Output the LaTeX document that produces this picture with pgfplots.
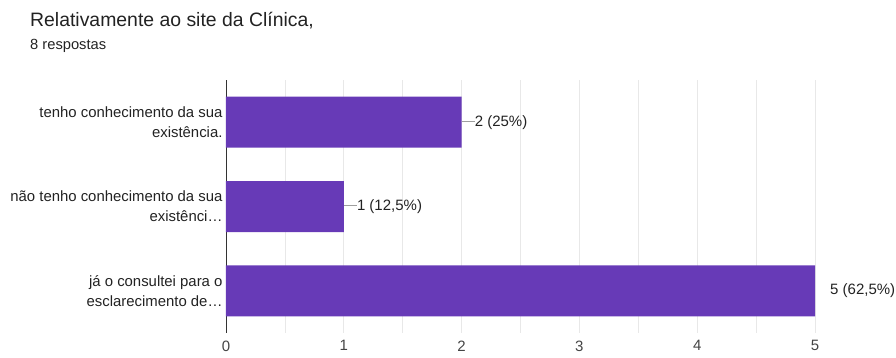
\documentclass[border=0pt]{standalone}
\usepackage{pgfplots}
\pgfplotsset{compat=1.18}
\usepackage{fontspec}
\setmainfont{Liberation Sans}
\definecolor{barpurple}{HTML}{673AB7}
\definecolor{gridgray}{HTML}{E8E8E8}
\definecolor{txt}{HTML}{222222}
\definecolor{ticktxt}{HTML}{444444}
\definecolor{leadgray}{HTML}{9E9E9E}
\definecolor{axisdark}{HTML}{333333}
\newcommand{\lead}{\textcolor{leadgray}{\rule[4.5pt]{13pt}{0.8pt}}}
\begin{document}
\begin{tikzpicture}[x=1pt,y=1pt]
\path[use as bounding box] (0,0) rectangle (896,358);
\node[anchor=base west, font=\fontsize{19.4}{22}\selectfont, text=txt, inner sep=0] at (30,331) {Relativamente ao site da Clínica,};
\node[anchor=base west, font=\fontsize{14.7}{17}\selectfont, text=txt, inner sep=0] at (30,308) {8 respostas};
\begin{axis}[
  at={(226pt,25pt)}, anchor=south west,
  scale only axis, width=589pt, height=253pt,
  xbar, bar width=51pt,
  xmin=0, xmax=5, ymin=-0.5, ymax=2.5, y dir=reverse,
  xtick={0,1,2,3,4,5}, minor xtick={0.5,1.5,2.5,3.5,4.5},
  xmajorgrids, xminorgrids,
  major grid style={gridgray, line width=0.8pt},
  minor grid style={gridgray, line width=0.8pt},
  ytick={0,1,2},
  yticklabels={{tenho conhecimento da sua\\existência.},{não tenho conhecimento da sua\\existênci…},{já o consultei para o\\esclarecimento de…}},
  yticklabel style={align=right, font=\fontsize{14.9}{20}\selectfont, text=txt},
  xticklabel style={font=\fontsize{15}{17}\selectfont, text=ticktxt, yshift=-4pt},
  /pgf/number format/assume math mode=true,
  axis x line=bottom, axis y line=left,
  x axis line style={draw=none},
  y axis line style={draw=axisdark, -, line width=0.8pt},
  major tick length=0pt, minor tick length=0pt,
  clip=false,
]
\addplot[fill=barpurple, draw=none, nodes near coords, point meta=explicit symbolic,
  every node near coord/.append style={anchor=west, inner sep=0pt, font=\fontsize{15}{17}\selectfont, text=txt}]
  coordinates {(2,0) [{\lead 2 (25\%)}] (1,1) [{\lead 1 (12,5\%)}] (5,2) [{\hspace*{15pt}5 (62,5\%)}]};
\end{axis}
\end{tikzpicture}
\end{document}
